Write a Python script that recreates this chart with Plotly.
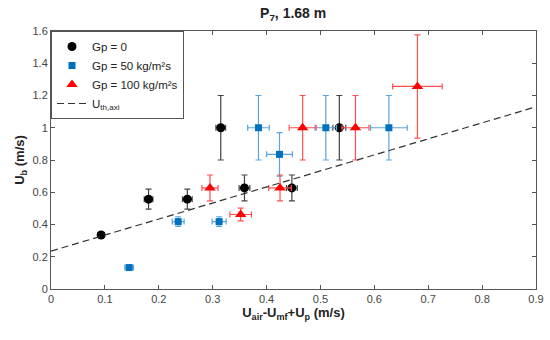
import plotly.graph_objects as go

# Gp = 0
x0 = [0.093, 0.181, 0.253, 0.315, 0.359, 0.447, 0.535]
y0 = [0.335, 0.557, 0.557, 1.0, 0.627, 0.627, 1.0]
ex0 = [0.006, 0.008, 0.009, 0.009, 0.010, 0.010, 0.012]
ey0 = [0.015, 0.062, 0.062, 0.2, 0.08, 0.08, 0.2]

# Gp = 50
x1 = [0.145, 0.236, 0.312, 0.385, 0.424, 0.510, 0.627]
y1 = [0.133, 0.418, 0.418, 1.0, 0.835, 1.0, 1.0]
ex1 = [0.008, 0.011, 0.013, 0.020, 0.024, 0.020, 0.034]
ey1 = [0.010, 0.030, 0.030, 0.2, 0.135, 0.2, 0.2]

# Gp = 100
x2 = [0.295, 0.352, 0.425, 0.467, 0.565, 0.680]
y2 = [0.627, 0.462, 0.627, 1.0, 1.0, 1.256]
ex2 = [0.015, 0.020, 0.021, 0.025, 0.025, 0.046]
ey2 = [0.08, 0.04, 0.08, 0.2, 0.2, 0.32]

# U_th,axi line
xl = [0.0, 0.9]
yl = [0.235, 1.13]

font = "Liberation Sans, Arial, sans-serif"

def series(x, y, ex, ey, name, sym, mcol, ecol, size):
    return go.Scatter(
        x=x, y=y, mode="markers", name=name,
        marker=dict(symbol=sym, color=mcol, size=size),
        error_x=dict(type="data", array=ex, visible=True, color=ecol, thickness=1.2, width=3),
        error_y=dict(type="data", array=ey, visible=True, color=ecol, thickness=1.2, width=3),
    )

fig = go.Figure()
fig.add_trace(series(x0, y0, ex0, ey0, "Gp = 0", "circle", "black", "#444444", 9))
fig.add_trace(series(x1, y1, ex1, ey1, "Gp = 50 kg/m²s", "square", "#0072BD", "#5AA5DD", 7))
fig.add_trace(series(x2, y2, ex2, ey2, "Gp = 100 kg/m²s", "triangle-up", "#FF0000", "#FF5050", 10))
fig.add_trace(go.Scatter(x=xl, y=yl, mode="lines", name="U<sub>th,axi</sub>",
                         line=dict(color="#333333", width=1.2, dash="7px,4px")))

axis_common = dict(
    showgrid=False, zeroline=False, showline=True, linecolor="#555555", linewidth=1,
    mirror="ticks", ticks="inside", ticklen=4, tickcolor="#555555", automargin=False,
    tickfont=dict(family=font, size=11, color="#444444"),
)

fig.update_layout(
    width=550, height=340,
    margin=dict(l=51, r=14, t=31, b=51),
    paper_bgcolor="white", plot_bgcolor="white",
    font=dict(family=font, color="#222222"),
    title=dict(text="<b>P<sub>7</sub>, 1.68 m</b>", x=0.533, xanchor="center", y=0.975, yanchor="top",
               font=dict(family=font, size=14, color="#222222")),
    xaxis=dict(range=[0, 0.9], tickvals=[0, 0.1, 0.2, 0.3, 0.4, 0.5, 0.6, 0.7, 0.8, 0.9],
               title=dict(text="<b>U<sub>air</sub>-U<sub>mf</sub>+U<sub>p</sub> (m/s)</b>", standoff=1,
                          font=dict(family=font, size=13, color="#222222")),
               **axis_common),
    yaxis=dict(range=[0, 1.6], tickvals=[0, 0.2, 0.4, 0.6, 0.8, 1.0, 1.2, 1.4, 1.6],
               ticktext=["0", "0.2", "0.4", "0.6", "0.8", "1", "1.2", "1.4", "1.6"],
               title=dict(text="<b>U<sub>b</sub> (m/s)</b>", standoff=4,
                          font=dict(family=font, size=13, color="#222222")),
               **axis_common),
    legend=dict(x=0, y=1, xanchor="left", yanchor="top", bgcolor="white",
                bordercolor="#555555", borderwidth=1,
                font=dict(family=font, size=11.5, color="#222222"),
                tracegroupgap=0, itemwidth=30),
    showlegend=True,
)

fig.write_html("out.html", config={"displayModeBar": False},
               post_script="document.body.style.margin='0';")
